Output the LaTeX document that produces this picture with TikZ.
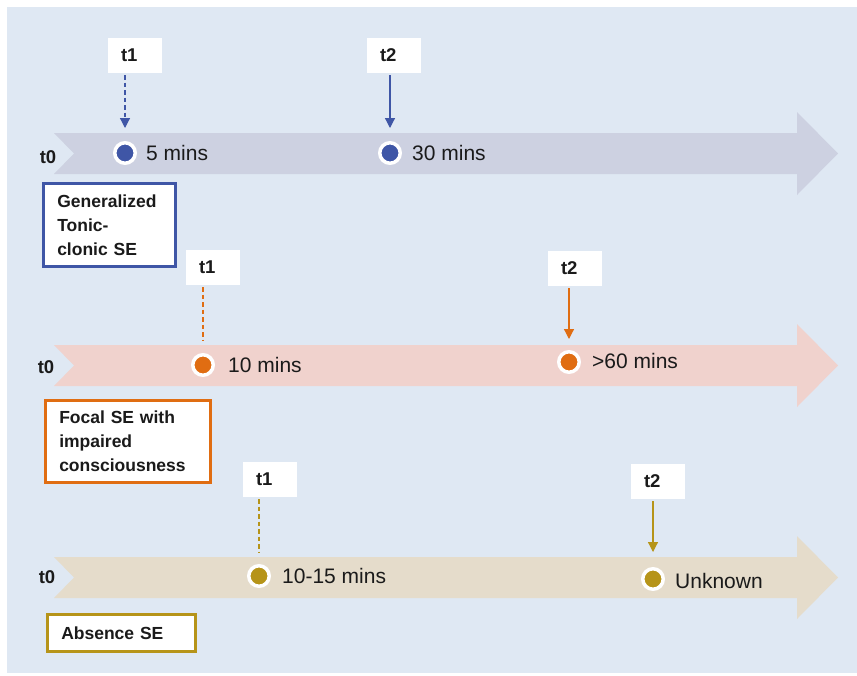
\documentclass[tikz,border=0pt]{standalone}
\usepackage{fontspec}
\setmainfont{Liberation Sans}
\usetikzlibrary{arrows.meta}
\definecolor{bgc}{HTML}{DFE8F3}
\definecolor{bandA}{HTML}{CDD1E1}
\definecolor{bandB}{HTML}{F0D2CD}
\definecolor{bandC}{HTML}{E5DCCB}
\definecolor{cblue}{HTML}{3F56A6}
\definecolor{corange}{HTML}{E06D12}
\definecolor{cgold}{HTML}{B69419}
\definecolor{ink}{HTML}{1A1A1A}
\tikzset{
  tbox/.style={fill=white, inner xsep=13pt, inner ysep=0pt, text width=28pt, align=left,
    minimum height=35pt, text=ink, font=\fontsize{18.5}{21}\selectfont\bfseries},
  tzero/.style={inner sep=0pt, text=ink, font=\fontsize{18.5}{21}\selectfont\bfseries},
  dot/.style={circle, minimum size=20.5pt, inner sep=0pt, draw=white, line width=3.5pt, fill=#1},
  timelabel/.style={anchor=west, inner sep=0pt, text=ink, font=\fontsize{21}{25}\selectfont},
  kind/.style={draw=#1, line width=2.5pt, fill=white, anchor=north west, inner xsep=14pt,
    inner ysep=0pt, align=left, text=ink, font=\fontsize{17.5}{24}\selectfont\bfseries},
  conn/.style={draw=#1, line width=1.2pt},
  tip/.style={-{Triangle[width=10pt,length=10pt]}},
  dashedconn/.style={dash pattern=on 4.5pt off 3pt},
}
\begin{document}
\begin{tikzpicture}[x=1pt,y=-1pt]
\useasboundingbox (0,0) rectangle (857,675);
\fill[bgc] (7,7) rectangle (857,673);

% timeline bands
\fill[bandA] (54,133) -- (797,133) -- (797,112) -- (838,153.5) -- (797,195) -- (797,174) -- (54,174) -- (74,153.5) -- cycle;
\fill[bandB] (54,345) -- (797,345) -- (797,324) -- (838,365.5) -- (797,407) -- (797,386) -- (54,386) -- (74,365.5) -- cycle;
\fill[bandC] (54,557) -- (797,557) -- (797,536) -- (838,577.5) -- (797,619) -- (797,598) -- (54,598) -- (74,577.5) -- cycle;

% t0 labels
\node[tzero] (z1) at (48,157) {t0};
\node[tzero] (z2) at (46,367) {t0};
\node[tzero] (z3) at (47,577) {t0};

% ---- Row 1: Generalized tonic-clonic
\node[tbox] (a1) at (135,55.5) {t1};
\node[tbox] (a2) at (394,55.5) {t2};
\node[dot=cblue] (ca1) at (125,153) {};
\node[dot=cblue] (ca2) at (390,153) {};
\node[timelabel] (la1) at (146,153) {5 mins};
\node[timelabel] (la2) at (412,153) {30 mins};
\draw[conn=cblue, dashedconn, tip, shorten <=2pt, shorten >=13pt] (ca1 |- a1.south) -- (ca1.north);
\draw[conn=cblue, tip, shorten <=2pt, shorten >=13pt] (ca2 |- a2.south) -- (ca2.north);
\node[kind=cblue, text width=104pt, minimum height=83pt] (ka) at (42,182) {Generalized\\Tonic-\\clonic SE};

% ---- Row 2: Focal SE with impaired consciousness
\node[tbox] (b1) at (213,267.5) {t1};
\node[tbox] (b2) at (575,268.5) {t2};
\node[dot=corange] (cb1) at (203,365) {};
\node[dot=corange] (cb2) at (569,362) {};
\node[timelabel] (lb1) at (228,365) {10 mins};
\node[timelabel] (lb2) at (592,361) {>60 mins};
\draw[conn=corange, dashedconn, shorten <=2pt, shorten >=13pt] (cb1 |- b1.south) -- (cb1.north);
\draw[conn=corange, tip, shorten <=2pt, shorten >=11pt] (cb2 |- b2.south) -- (cb2.north);
\node[kind=corange, text width=137pt, minimum height=82pt] (kb) at (44,399) {Focal SE with\\impaired\\consciousness};

% ---- Row 3: Absence SE
\node[tbox] (c1) at (270,479.5) {t1};
\node[tbox] (c2) at (658,481.5) {t2};
\node[dot=cgold] (cc1) at (259,576) {};
\node[dot=cgold] (cc2) at (653,579) {};
\node[timelabel] (lc1) at (282,576) {10-15 mins};
\node[timelabel] (lc2) at (675,581) {Unknown};
\draw[conn=cgold, dashedconn, shorten <=2pt, shorten >=12pt] (cc1 |- c1.south) -- (cc1.north);
\draw[conn=cgold, tip, shorten <=2pt, shorten >=15pt] (cc2 |- c2.south) -- (cc2.north);
\node[kind=cgold, text width=120pt, minimum height=37pt] (kc) at (46,613) {Absence SE};
\end{tikzpicture}
\end{document}
